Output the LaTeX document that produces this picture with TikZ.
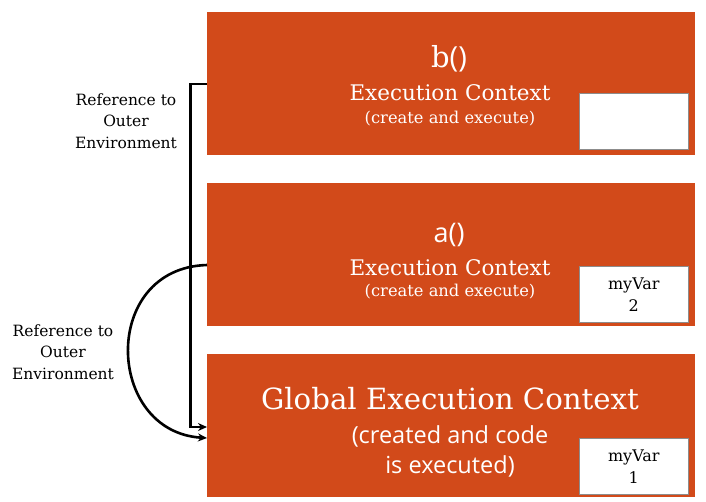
\documentclass[tikz,border=0pt]{standalone}
\usepackage{fontspec}
\setmainfont{DejaVu Serif}
\newfontfamily\gsans{Open Sans}
\usetikzlibrary{arrows.meta}
\definecolor{ctxorange}{RGB}{210,74,26}
\definecolor{boxgrey}{RGB}{140,140,140}
\begin{document}
\begin{tikzpicture}[x=1pt,y=-1pt,
  ctxbox/.style={fill=ctxorange,draw=none,minimum width=488pt,minimum height=143pt,anchor=north west,inner sep=0pt},
  varbox/.style={fill=white,draw=boxgrey,line width=0.6pt,minimum width=109pt,minimum height=56pt,anchor=north west,inner sep=0pt,align=center,font=\fontsize{16}{22}\selectfont},
  wtxt/.style={text=white,inner sep=0pt},
  lbl/.style={align=center,inner sep=0pt,font=\fontsize{15.5}{21.5}\selectfont},
  conn/.style={line width=2.6pt,-{Stealth[length=9pt,width=8pt]}}
]
\useasboundingbox (0,0) rectangle (706,501);
\node[ctxbox] (b) at (207,12) {};
\node[ctxbox] (a) at (207,183) {};
\node[ctxbox] (g) at (207,354) {};
\node[varbox] (bv) at (579,93) {};
\node[varbox] (av) at (579,266) {myVar\\2};
\node[varbox] (gv) at (579,438) {myVar\\1};
% texts
\node[wtxt,font=\fontsize{29}{29}\selectfont] (bt1) at (449,59) {b{\gsans()}};
\node[wtxt,font=\fontsize{21.5}{21.5}\selectfont] (bt2) at (450,93) {Execution Context};
\node[wtxt,font=\fontsize{16.3}{16.3}\selectfont] (bt3) at (450,119) {(create and execute)};
\node[wtxt,font=\gsans\fontsize{27}{27}\selectfont] (at1) at (449,235) {a()};
\node[wtxt,font=\fontsize{21.5}{21.5}\selectfont] (at2) at (450,268) {Execution Context};
\node[wtxt,font=\fontsize{16.3}{16.3}\selectfont] (at3) at (450,292) {(create and execute)};
\node[wtxt,font=\fontsize{29.2}{29.2}\selectfont] (gt1) at (450,399) {Global Execution Context};
\node[wtxt,font=\gsans\fontsize{23.5}{23.5}\selectfont] (gt2) at (450,436) {(created and code};
\node[wtxt,font=\gsans\fontsize{23.5}{23.5}\selectfont] (gt3) at (450,466) {is executed)};
% labels
\node[lbl] (l1) at (126,121) {Reference to\\Outer\\Environment};
\node[lbl] (l2) at (63,352) {Reference to\\Outer\\Environment};
% connectors
\coordinate (bs) at (207,84);
\coordinate (bk1) at (190.5,84);
\coordinate (bk2) at (190.5,427);
\coordinate (ge1) at (207,427);
\coordinate (as) at (207,265);
\coordinate (ge2) at (207,438);
\draw[conn] (bs) -- (bk1) -- (bk2) -- (ge1);
\draw[conn] (as) .. controls (100,268) and (105,432) .. (ge2);
\end{tikzpicture}
\end{document}
